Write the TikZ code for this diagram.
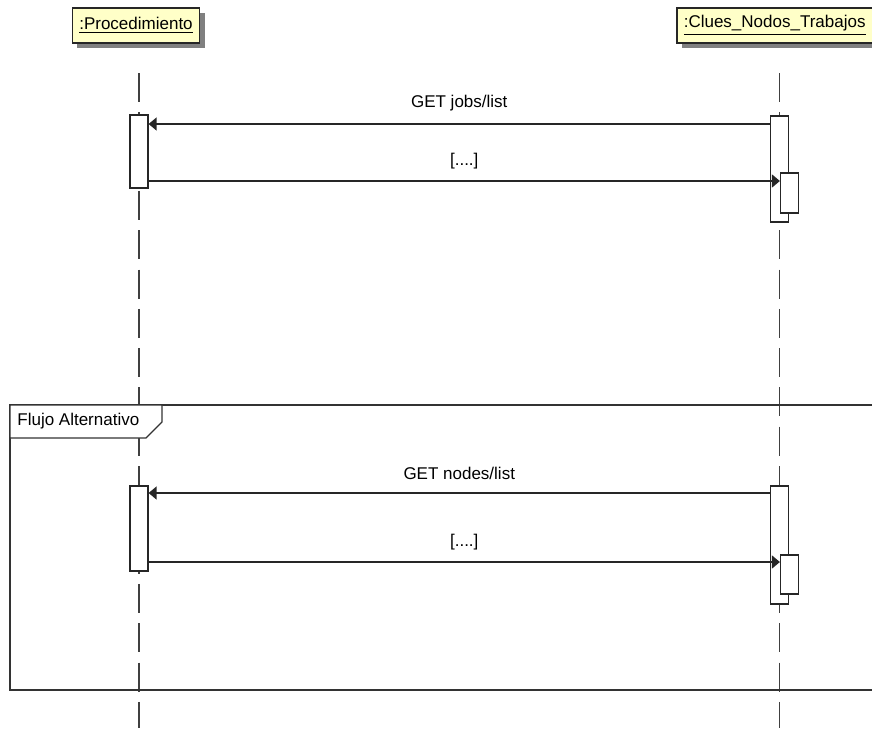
\documentclass[tikz,border=0pt]{standalone}
\usepackage{fontspec}
\setmainfont{Liberation Sans}
\usetikzlibrary{arrows.meta, positioning, shadows}

\begin{document}
\begin{tikzpicture}[x=0.5pt, y=-0.5pt,
        font=\fontsize{8.5}{10}\selectfont,
        objeto/.style={draw=black!85, line width=0.8pt, fill={rgb,255:red,255;green,255;blue,200},
            minimum height=17.5pt, inner xsep=3.5pt,
            drop shadow={shadow xshift=2.5pt, shadow yshift=-2.5pt, opacity=1, fill=black!50}},
        vida/.style={draw=black!75, line width=0.6pt, dash pattern=on 14.5pt off 5.15pt},
        activacion/.style={draw=black!85, fill=white, line width=0.6pt,
            minimum width=9pt, inner sep=0pt},
        mensaje/.style={draw=black!85, line width=0.7pt, -{Triangle[length=4pt, width=6.5pt]}},
        marco/.style={draw=black!80, line width=0.7pt}]
        \useasboundingbox (0, 0) rectangle (872, 728);

        \node[objeto, minimum width=63pt] (proc) at (136, 25.5) {\underline{:Procedimiento}};
        \node[objeto, anchor=west] (clues) at (676, 25.5) {\underline{:Clues\_Nodos\_Trabajos}};

        \coordinate (vidaA) at (139, 73);
        \coordinate (vidaB) at (779.5, 73);
        \coordinate (finA) at (139, 728);
        \coordinate (finB) at (779.5, 728);
        \draw[vida] (vidaA) -- (finA);
        \draw[vida] (vidaB) -- (finB);

        % primer bloque
        \node[activacion, minimum height=36.5pt] (actA1) at (139, 151.5) {};
        \node[activacion, minimum height=53pt] (actB1) at (779.5, 169) {};
        \node[activacion, minimum height=20pt] (actB1n) at (789.5, 193) {};
        \coordinate (m1) at (0, 124);
        \coordinate (r1) at (0, 181);
        \draw[mensaje] (actB1.west |- m1) -- (actA1.east |- m1)
            node[pos=0.5, above=3pt] {GET jobs/list};
        \draw[mensaje] (actA1.east |- r1) -- (actB1n.west |- r1)
            node[pos=0.5, above=2.5pt] {[....]};

        % marco alternativo
        \draw[marco] (10, 405) rectangle (885, 690);
        \filldraw[marco, fill=white] (10, 405) -- (10, 438) -- (146, 438) -- (162, 422) -- (162, 405) -- cycle;
        \node[anchor=west, inner sep=1pt] (alt) at (15, 421) {Flujo Alternativo};

        % segundo bloque
        \node[activacion, minimum height=42.5pt] (actA2) at (139, 528.5) {};
        \node[activacion, minimum height=59pt] (actB2) at (779.5, 545) {};
        \node[activacion, minimum height=19.5pt] (actB2n) at (789.5, 574.5) {};
        \coordinate (m2) at (0, 493);
        \coordinate (r2) at (0, 562);
        \draw[mensaje] (actB2.west |- m2) -- (actA2.east |- m2)
            node[pos=0.5, above=3pt] {GET nodes/list};
        \draw[mensaje] (actA2.east |- r2) -- (actB2n.west |- r2)
            node[pos=0.5, above=2.5pt] {[....]};
    \end{tikzpicture}
\end{document}
